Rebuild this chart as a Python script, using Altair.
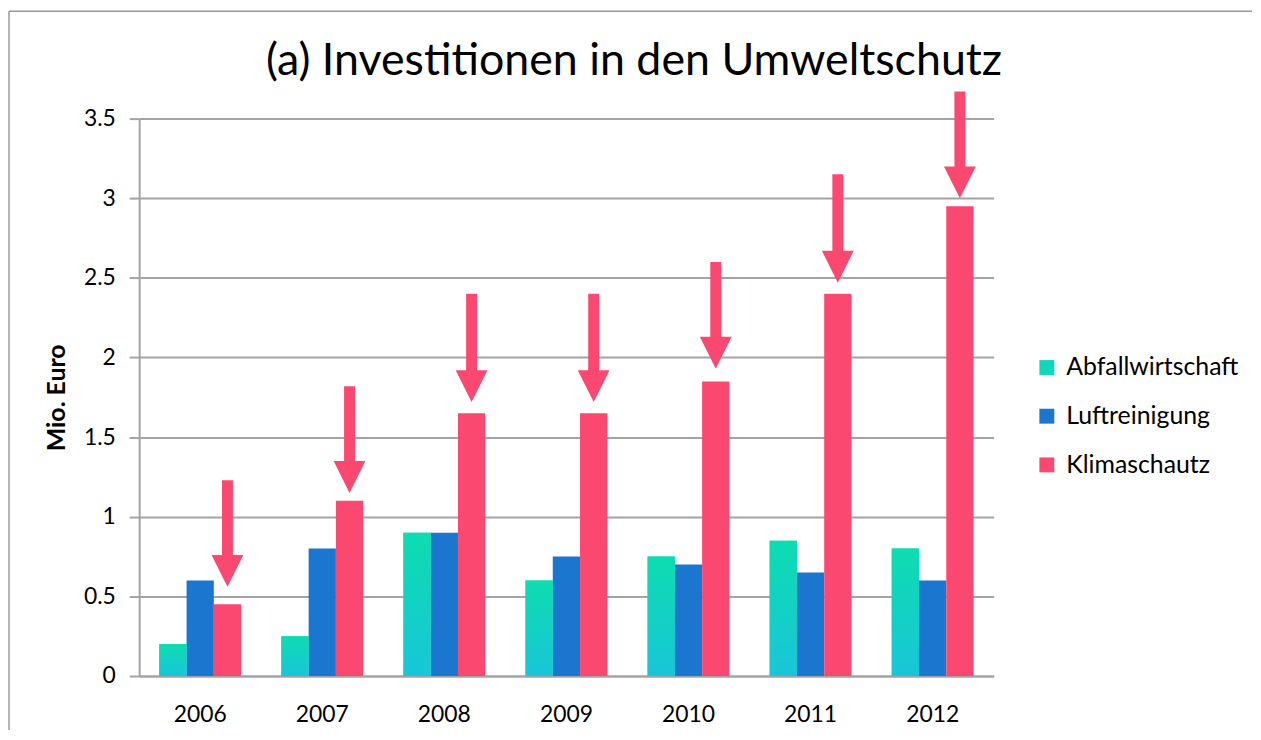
import altair as alt
import pandas as pd

years = ["2006", "2007", "2008", "2009", "2010", "2011", "2012"]
series_names = ["Abfallwirtschaft", "Luftreinigung", "Klimaschautz"]
abfall = [0.2, 0.25, 0.9, 0.6, 0.75, 0.85, 0.8]
luft = [0.6, 0.8, 0.9, 0.75, 0.7, 0.65, 0.6]
klima = [0.45, 1.1, 1.65, 1.65, 1.85, 2.4, 2.95]
arrow_top = [1.23, 1.82, 2.4, 2.4, 2.6, 3.15, 3.67]
arrow_tip = [0.56, 1.15, 1.72, 1.72, 1.93, 2.47, 3.0]
y_ticks = [0, 0.5, 1, 1.5, 2, 2.5, 3, 3.5]
colors = ["#12d6bc", "#1a76cf", "#fb4870"]
title_text = "(a) Investitionen in den Umweltschutz"

rows = []
for i, yr in enumerate(years):
    for s, vals in zip(series_names, [abfall, luft, klima]):
        rows.append({"year": yr, "series": s, "value": vals[i]})
df = pd.DataFrame(rows)
arrows = pd.DataFrame({"year": years, "series": ["Klimaschautz"] * len(years),
                       "top": arrow_top, "tip": arrow_tip})

FONT = "Lato"
GRID = "#a3a3a3"
PINK = colors[2]

x_enc = alt.X("year:N", sort=years,
              scale=alt.Scale(paddingInner=0.33, paddingOuter=0.165),
              axis=alt.Axis(title=None, ticks=False, labelAngle=0, labelFontSize=23,
                            labelPadding=28, domainColor=GRID, domainWidth=2,
                            labelColor="black", labelFont=FONT, grid=False))
xoff = alt.XOffset("series:N", sort=series_names,
                   scale=alt.Scale(domain=series_names, paddingInner=0, paddingOuter=0))
y_scale = alt.Scale(domain=[0, 3.5], nice=False, zero=True)
y_axis = alt.Axis(title="Mio. Euro", values=y_ticks, format=".1~f",
                  labelFontSize=23, labelFont=FONT, labelColor="black",
                  labelPadding=14, tickSize=10, tickColor=GRID, tickWidth=2,
                  domainColor=GRID, domainWidth=2, gridColor=GRID, gridWidth=2,
                  titleFont=FONT, titleFontSize=25, titleFontWeight="bold",
                  titleColor="black", titlePadding=14)

bars = alt.Chart(df).mark_bar().encode(
    x=x_enc,
    xOffset=xoff,
    y=alt.Y("value:Q", scale=y_scale, axis=y_axis),
    color=alt.Color("series:N", sort=series_names,
                    scale=alt.Scale(domain=series_names, range=colors),
                    legend=alt.Legend(orient="none", legendX=901, legendY=238, title=None,
                                      symbolType="square", symbolSize=225,
                                      symbolStrokeWidth=0, labelFontSize=25,
                                      labelFont=FONT, labelColor="black", labelLimit=0,
                                      rowPadding=23, labelOffset=7)),
)

grad = alt.Gradient(gradient="linear",
                    stops=[alt.GradientStop(color="#0ddcb0", offset=0),
                           alt.GradientStop(color="#18c6d8", offset=1)],
                    x1=0, x2=0, y1=0, y2=1)
abfall_layer = alt.Chart(df).transform_filter(
    alt.datum.series == "Abfallwirtschaft"
).mark_bar(color=grad).encode(
    x=x_enc, xOffset=xoff,
    y=alt.Y("value:Q", scale=y_scale, axis=y_axis),
)

shaft = alt.Chart(arrows).mark_rule(color=PINK, strokeWidth=11, y2Offset=-20).encode(
    x=x_enc, xOffset=xoff,
    y=alt.Y("top:Q", scale=y_scale, axis=y_axis),
    y2="tip:Q",
)
head = alt.Chart(arrows).mark_point(shape="M-1,-1L1,-1L0,1Z", filled=True, size=1024,
                                     opacity=1, color=PINK, strokeWidth=0,
                                     yOffset=-16).encode(
    x=x_enc, xOffset=xoff,
    y=alt.Y("tip:Q", scale=y_scale, axis=y_axis),
)

one = alt.Data(values=[{"t": title_text}])
title_layer = alt.Chart(one).mark_text(font=FONT, fontSize=45, color="black",
                                        align="center", baseline="alphabetic").encode(
    text="t:N", x=alt.value(498), y=alt.value(-44))
border_left = alt.Chart(one).mark_rule(color="#9a9a9a", strokeWidth=1.5).encode(
    x=alt.value(-131), y=alt.value(-108), y2=alt.value(640))
border_top = alt.Chart(one).mark_rule(color="#9a9a9a", strokeWidth=1.5).encode(
    x=alt.value(-131), x2=alt.value(1120), y=alt.value(-108), y2=alt.value(-108))

chart = alt.layer(bars, abfall_layer, shaft, head, title_layer, border_left,
                  border_top).properties(
    width=860, height=561,
    autosize=alt.AutoSizeParams(type="none"),
    padding={"left": 132, "top": 109, "right": 261, "bottom": 52},
    background="white",
).configure_view(stroke=None)

chart.save("out.html", embed_options={"renderer": "svg", "actions": False})
